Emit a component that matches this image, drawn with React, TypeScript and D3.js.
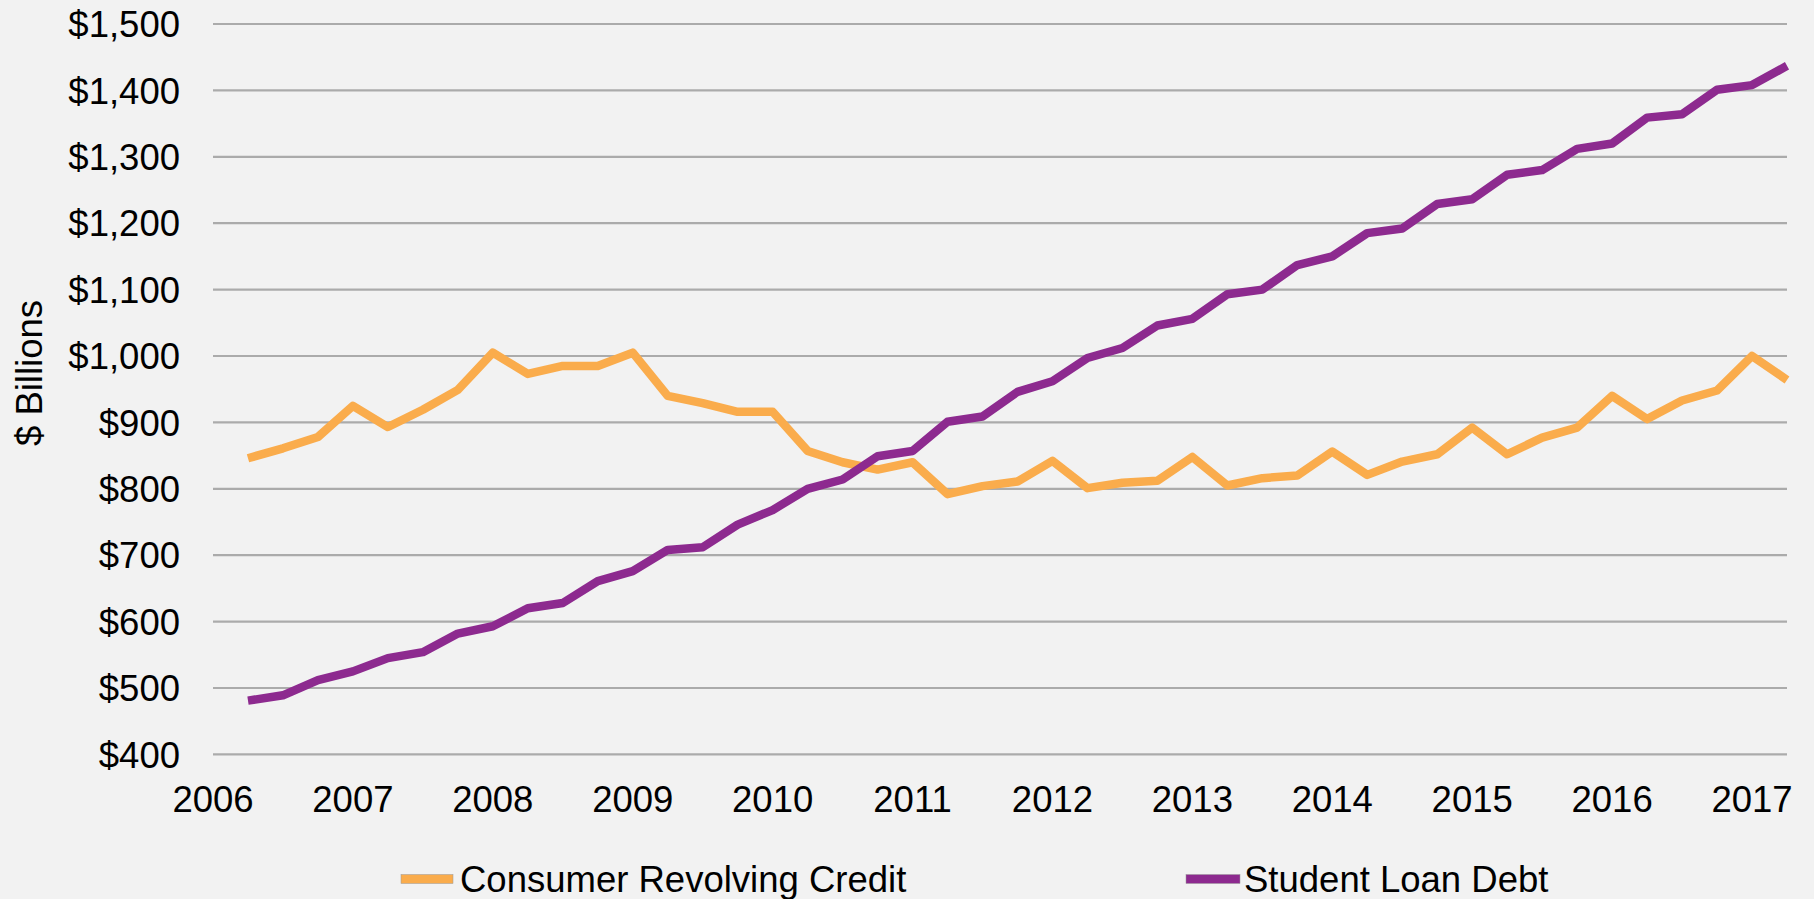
import React from "react";
import * as d3 from "d3";

const quarters: string[] = [
  "2006Q1","2006Q2","2006Q3","2006Q4",
  "2007Q1","2007Q2","2007Q3","2007Q4",
  "2008Q1","2008Q2","2008Q3","2008Q4",
  "2009Q1","2009Q2","2009Q3","2009Q4",
  "2010Q1","2010Q2","2010Q3","2010Q4",
  "2011Q1","2011Q2","2011Q3","2011Q4",
  "2012Q1","2012Q2","2012Q3","2012Q4",
  "2013Q1","2013Q2","2013Q3","2013Q4",
  "2014Q1","2014Q2","2014Q3","2014Q4",
  "2015Q1","2015Q2","2015Q3","2015Q4",
  "2016Q1","2016Q2","2016Q3","2016Q4",
  "2017Q1",
];

const consumerRevolvingCredit: number[] = [
  846, 861, 878, 925, 893, 919, 949, 1005, 973, 985, 985, 1005,
  940, 929, 916, 916, 857, 840, 829, 840, 792, 804, 811, 842,
  801, 809, 812, 848, 805, 816, 820, 856, 821, 841, 852, 892,
  852, 877, 892, 940, 905, 933, 948, 1000, 964,
];

const studentLoanDebt: number[] = [
  481, 489, 512, 525, 545, 554, 582, 593, 620, 628, 661, 676,
  708, 712, 746, 768, 800, 814, 849, 857, 901, 909, 946, 962,
  997, 1012, 1046, 1056, 1093, 1100, 1137, 1150, 1185, 1192, 1229, 1236,
  1273, 1280, 1312, 1320, 1359, 1364, 1401, 1408, 1437,
];

const yTicks: number[] = [400, 500, 600, 700, 800, 900, 1000, 1100, 1200, 1300, 1400, 1500];
const xTickYears: number[] = [2006, 2007, 2008, 2009, 2010, 2011, 2012, 2013, 2014, 2015, 2016, 2017];

const seriesNames = ["Consumer Revolving Credit", "Student Loan Debt"];
const colors = ["#FAAC4C", "#8D2A8F"];

const W = 1814;
const H = 899;
const FONT = "'Liberation Sans', Arial, Helvetica, sans-serif";

// quarter-end position as fractional year
function quarterToTime(q: string): number {
  const y = +q.slice(0, 4);
  const n = +q.slice(5);
  return y + n * 0.25;
}

export default function App() {
  const x = d3.scaleLinear().domain([2006, 2017.25]).range([213, 1787]);
  const y = d3.scaleLinear().domain([400, 1500]).range([754.4, 24]);

  const fmt = (v: number) => "$" + d3.format(",")(v);

  const line = d3
    .line<number>()
    .x((_, i) => x(quarterToTime(quarters[i])))
    .y((d) => y(d));

  const series = [consumerRevolvingCredit, studentLoanDebt];

  return (
    <svg
      width={W}
      height={H}
      style={{ position: "absolute", left: 0, top: 0, display: "block" }}
      fontFamily={FONT}
    >
      <rect x={0} y={0} width={W} height={H} fill="#F2F2F2" />
      {yTicks.map((t) => (
        <g key={t}>
          <line x1={213} x2={1787} y1={y(t)} y2={y(t)} stroke="#ABABAB" strokeWidth={2.2} />
          <text x={180} y={y(t)} dy="0.36em" textAnchor="end" fontSize={36.5} fill="#000">
            {fmt(t)}
          </text>
        </g>
      ))}
      {xTickYears.map((yr) => (
        <text key={yr} x={x(yr)} y={811.5} textAnchor="middle" fontSize={36.5} fill="#000">
          {yr}
        </text>
      ))}
      <text
        transform={`translate(29,373) rotate(-90)`}
        textAnchor="middle"
        dy="0.36em"
        fontSize={36.5}
        fill="#000"
      >
        $ Billions
      </text>
      {series.map((s, i) => (
        <path
          key={i}
          d={line(s) || ""}
          fill="none"
          stroke={colors[i]}
          strokeWidth={8.5}
          strokeLinejoin="round"
          strokeLinecap="butt"
        />
      ))}
      {/* legend */}
      <g>
        <rect x={401} y={874.5} width={52} height={9} fill={colors[0]} stroke="#999" strokeWidth={0.5} />
        <text x={460} y={879} dy="0.36em" fontSize={36.5} fill="#000">
          {seriesNames[0]}
        </text>
        <rect x={1186} y={874.5} width={54} height={9} fill={colors[1]} stroke="#999" strokeWidth={0.5} />
        <text x={1244} y={879} dy="0.36em" fontSize={36.5} fill="#000">
          {seriesNames[1]}
        </text>
      </g>
    </svg>
  );
}
